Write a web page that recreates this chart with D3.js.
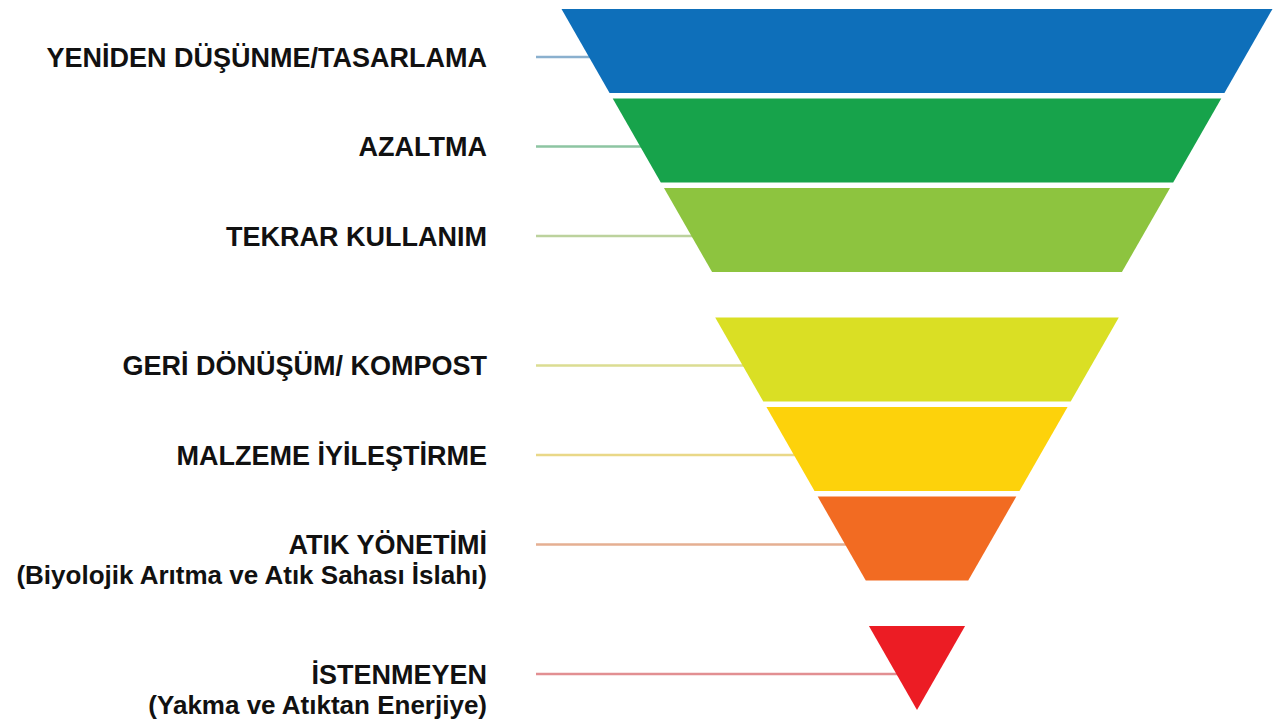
<!DOCTYPE html>
<html>
<head>
<meta charset="utf-8">
<script src="https://cdn.jsdelivr.net/npm/d3@7"></script>
<style>
  html, body { margin: 0; padding: 0; background: #fff; }
  svg { display: block; }
  text { font-family: "Liberation Sans", Arial, Helvetica, sans-serif; font-weight: bold; }
</style>
</head>
<body>
<svg width="1273" height="723"></svg>
<script>
// Tiers of the waste hierarchy, top (most preferred) to bottom
var tiers = [
  "YENİDEN DÜŞÜNME/TASARLAMA",
  "AZALTMA",
  "TEKRAR KULLANIM",
  "GERİ DÖNÜŞÜM/ KOMPOST",
  "MALZEME İYİLEŞTİRME",
  "ATIK YÖNETİMİ",
  "İSTENMEYEN"
];
var notes = ["", "", "", "", "", "(Biyolojik Arıtma ve Atık Sahası İslahı)", "(Yakma ve Atıktan Enerjiye)"];
var groups = [0, 0, 0, 1, 1, 1, 2];
var colors = ["#0e6fba", "#17a34b", "#8dc43f", "#dadf24", "#fdd20b", "#f26b22", "#ec1c24"];

// layout (note: "top" is taken by window.top, so topY)
var cx = 917,        // centre of the funnel
    topY = 9,
    bandH = 84,      // height of one tier
    gap = 5.5,       // white line between tiers
    groupGap = 40,   // extra space between groups
    topHalf = 355.5, // half width of the top edge
    labelX = 487,
    leaderX = 536;

var svg = d3.select("svg");

var total = tiers.length * bandH + (tiers.length - 1) * gap;
var half = d3.scaleLinear().domain([0, total]).range([topHalf, 0]);

var rows = tiers.map(function(name, i) {
  var t0 = i * (bandH + gap);
  var y0 = topY + t0 + groups[i] * groupGap;
  return {
    i: i, name: name, note: notes[i], color: colors[i],
    t0: t0, t1: t0 + bandH, y0: y0, y1: y0 + bandH,
    ly: y0 + bandH * 0.57
  };
});

function edgeAt(d, y) {
  // left edge x of a tier at screen y
  return cx - half(d.t0 + (y - d.y0));
}

// leader lines (behind the shapes)
svg.append("g").selectAll("line")
  .data(rows)
  .enter()
  .append("line")
  .attr("x1", leaderX)
  .attr("x2", function(d) { return edgeAt(d, d.ly) + 2; })
  .attr("y1", function(d) { return d.ly; })
  .attr("y2", function(d) { return d.ly; })
  .style("stroke", function(d) { return d3.interpolateRgb(d.color, "#dcdcdc")(0.6); })
  .style("stroke-width", 2.5);

var line = d3.line();

svg.append("g").selectAll("path")
  .data(rows)
  .enter()
  .append("path")
  .attr("d", function(d) {
    var pts = [
      [cx - half(d.t0), d.y0],
      [cx + half(d.t0), d.y0],
      [cx + half(d.t1), d.y1],
      [cx - half(d.t1), d.y1]
    ];
    return line(pts) + "Z";
  })
  .style("fill", function(d) { return d.color; });

// labels
var lab = svg.append("g").selectAll("text")
  .data(rows)
  .enter()
  .append("text")
  .attr("text-anchor", "end")
  .style("font-size", "27px")
  .style("fill", "#111");

lab.append("tspan")
  .attr("x", labelX)
  .attr("y", function(d) { return d.ly + 10; })
  .text(function(d) { return d.name; });

lab.filter(function(d) { return d.note; })
  .append("tspan")
  .attr("x", labelX)
  .attr("y", function(d) { return d.ly + 40; })
  .style("font-size", "26px")
  .text(function(d) { return d.note; });
</script>
</body>
</html>
